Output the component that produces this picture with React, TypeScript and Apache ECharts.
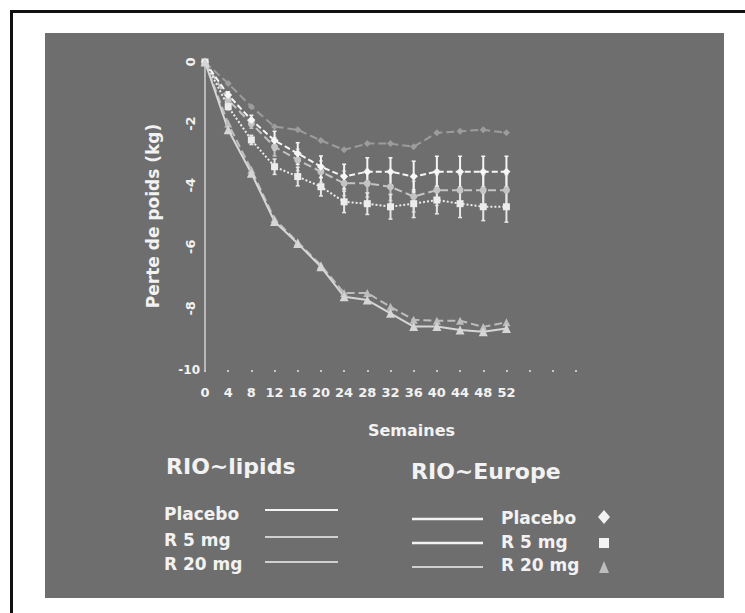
import React, { useEffect, useRef } from "react";
import * as echarts from "echarts";

const weeks = [0, 4, 8, 12, 16, 20, 24, 28, 32, 36, 40, 44, 48, 52];

const lipidsPlacebo = [0, -0.7, -1.45, -2.1, -2.2, -2.55, -2.85, -2.65, -2.65, -2.75, -2.3, -2.25, -2.2, -2.3];
const europePlacebo = [0, -1.07, -1.88, -2.55, -2.97, -3.4, -3.72, -3.56, -3.56, -3.72, -3.56, -3.56, -3.56, -3.56];
const europeR5 = [0, -1.45, -2.53, -3.4, -3.72, -4.05, -4.54, -4.6, -4.7, -4.6, -4.48, -4.6, -4.7, -4.7];
const lipidsR5 = [0, -1.23, -2.0, -2.75, -3.18, -3.56, -3.94, -3.94, -4.05, -4.37, -4.16, -4.16, -4.16, -4.16];
const europeR20 = [0, -2.2, -3.61, -5.18, -5.89, -6.65, -7.62, -7.73, -8.16, -8.59, -8.59, -8.7, -8.76, -8.65];
const lipidsR20 = [0, -2.0, -3.5, -5.1, -5.85, -6.6, -7.5, -7.5, -7.95, -8.37, -8.4, -8.4, -8.6, -8.45];

const errEuropePlacebo = [0, 0.1, 0.15, 0.3, 0.35, 0.35, 0.4, 0.45, 0.45, 0.5, 0.5, 0.5, 0.5, 0.5];
const errEuropeR5 = [0, 0.1, 0.15, 0.25, 0.3, 0.3, 0.35, 0.35, 0.4, 0.45, 0.45, 0.45, 0.45, 0.5];
const errLipidsR5 = [0, 0.1, 0.15, 0.3, 0.35, 0.35, 0.4, 0.45, 0.45, 0.5, 0.5, 0.5, 0.5, 0.5];

const yTicks = [0, -2, -4, -6, -8, -10];

const legendLipids = ["Placebo", "R 5 mg", "R 20 mg"];
const legendEurope = ["Placebo", "R 5 mg", "R 20 mg"];

const FONT = "'DejaVu Sans', Verdana, sans-serif";
const WHITE = "#f2f2f2";

function pairs(vals: number[]) {
  return weeks.map((w, i) => [w, vals[i]]);
}

function errData(vals: number[], errs: number[]) {
  return weeks.map((w, i) => [w, vals[i] - errs[i], vals[i] + errs[i]]);
}

function errSeries(vals: number[], errs: number[], color: string) {
  return {
    type: "custom",
    data: errData(vals, errs),
    z: 3,
    renderItem: (params: any, api: any) => {
      const x = api.value(0);
      const lo = api.coord([x, api.value(1)]);
      const hi = api.coord([x, api.value(2)]);
      return {
        type: "group",
        children: [
          { type: "line", shape: { x1: lo[0], y1: lo[1], x2: hi[0], y2: hi[1] }, style: { stroke: color, lineWidth: 2 } },
          { type: "line", shape: { x1: lo[0] - 2, y1: lo[1], x2: lo[0] + 2, y2: lo[1] }, style: { stroke: color, lineWidth: 1.5 } },
          { type: "line", shape: { x1: hi[0] - 2, y1: hi[1], x2: hi[0] + 2, y2: hi[1] }, style: { stroke: color, lineWidth: 1.5 } },
        ],
      };
    },
  };
}

export default function App() {
  const ref = useRef<HTMLDivElement>(null);

  useEffect(() => {
    if (!ref.current) return;
    const chart = echarts.init(ref.current, undefined, { renderer: "svg" });

    const legendGraphics: any[] = [
      { type: "text", x: 166, y: 466, style: { text: "RIO~lipids", fill: WHITE, fontSize: 22, fontWeight: "bold", fontFamily: FONT, verticalAlign: "middle" } },
      { type: "text", x: 411, y: 471, style: { text: "RIO~Europe", fill: WHITE, fontSize: 22, fontWeight: "bold", fontFamily: FONT, verticalAlign: "middle" } },
    ];
    const lipY = [514, 540, 564];
    const lipLineY = [510, 537, 562];
    legendLipids.forEach((t, i) => {
      legendGraphics.push({ type: "text", x: 164, y: lipY[i], style: { text: t, fill: WHITE, fontSize: 17, fontWeight: "bold", fontFamily: FONT, verticalAlign: "middle" } });
      legendGraphics.push({ type: "line", shape: { x1: 265, y1: lipLineY[i], x2: 338, y2: lipLineY[i] }, style: { stroke: WHITE, lineWidth: i === 0 ? 2 : 1.5 } });
    });
    const euY = [518, 542, 565];
    const euLineY = [519, 543, 567];
    legendEurope.forEach((t, i) => {
      legendGraphics.push({ type: "text", x: 501, y: euY[i], style: { text: t, fill: WHITE, fontSize: 17, fontWeight: "bold", fontFamily: FONT, verticalAlign: "middle" } });
      legendGraphics.push({ type: "line", shape: { x1: 412, y1: euLineY[i], x2: 483, y2: euLineY[i] }, style: { stroke: WHITE, lineWidth: i === 2 ? 1.5 : 2.5 } });
    });
    legendGraphics.push({ type: "polygon", shape: { points: [[604, 510], [610, 517], [604, 524], [598, 517]] }, style: { fill: WHITE } });
    legendGraphics.push({ type: "rect", shape: { x: 599, y: 538, width: 10, height: 10 }, style: { fill: WHITE } });
    legendGraphics.push({ type: "polygon", shape: { points: [[604, 561], [609, 573], [599, 573]] }, style: { fill: "#bdbdbd" } });

    const option: any = {
      animation: false,
      backgroundColor: "transparent",
      grid: { left: 205, right: 169, top: 62, bottom: 243, containLabel: false },
      xAxis: {
        type: "value",
        min: 0,
        max: 64,
        interval: 4,
        name: "Semaines",
        nameLocation: "middle",
        nameGap: 52,
        nameTextStyle: { color: WHITE, fontSize: 16, fontWeight: "bold", fontFamily: FONT, padding: [0, 0, 0, 42] },
        axisLine: { show: false, onZero: false },
        axisTick: { show: true, length: 2, inside: false, lineStyle: { color: "#c8c8c8", width: 2 } },
        splitLine: { show: false },
        axisLabel: {
          color: WHITE,
          fontSize: 13,
          fontWeight: "bold",
          fontFamily: FONT,
          margin: 16,
          formatter: (v: number) => (v <= 52 ? String(v) : ""),
        },
      },
      yAxis: [
        {
          type: "value",
          min: -10,
          max: 0,
          interval: 2,
          name: "Perte de poids (kg)",
          nameLocation: "middle",
          nameGap: 44,
          nameTextStyle: { color: WHITE, fontSize: 17, fontWeight: "bold", fontFamily: FONT },
          axisLine: { show: true, onZero: false, lineStyle: { color: "#d0d0d0", width: 1.5 } },
          axisTick: { show: false },
          splitLine: { show: false },
          axisLabel: {
            color: WHITE,
            fontSize: 13,
            fontWeight: "bold",
            fontFamily: FONT,
            rotate: 90,
            margin: 8,
            formatter: (v: number) => (yTicks.includes(v) && v !== -10 ? String(v) : ""),
          },
        },
        {
          type: "value",
          min: -10,
          max: 0,
          interval: 2,
          position: "left",
          axisLine: { show: false, onZero: false },
          axisTick: { show: false },
          splitLine: { show: false },
          axisLabel: {
            color: WHITE,
            fontSize: 12,
            fontWeight: "bold",
            fontFamily: FONT,
            margin: 5,
            formatter: (v: number) => (v === -10 ? String(v) : ""),
          },
        },
      ],
      series: [
        {
          name: "RIO-Lipids Placebo",
          type: "line",
          data: pairs(lipidsPlacebo),
          symbol: "diamond",
          symbolSize: 7,
          itemStyle: { color: "#9c9c9c" },
          lineStyle: { color: "#9c9c9c", width: 2, type: "dashed" },
        },
        errSeries(lipidsR5, errLipidsR5, "#c4c4c4"),
        {
          name: "RIO-Lipids R 5 mg",
          type: "line",
          data: pairs(lipidsR5),
          symbol: "circle",
          symbolSize: 7,
          itemStyle: { color: "#c4c4c4" },
          lineStyle: { color: "#c4c4c4", width: 2, type: "dashed" },
        },
        errSeries(europeR5, errEuropeR5, "#e6e6e6"),
        {
          name: "RIO-Europe R 5 mg",
          type: "line",
          data: pairs(europeR5),
          symbol: "rect",
          symbolSize: 7,
          itemStyle: { color: "#ececec" },
          lineStyle: { color: "#ececec", width: 2, type: "dotted" },
        },
        errSeries(europePlacebo, errEuropePlacebo, "#f4f4f4"),
        {
          name: "RIO-Europe Placebo",
          type: "line",
          data: pairs(europePlacebo),
          symbol: "diamond",
          symbolSize: 8,
          itemStyle: { color: "#f6f6f6" },
          lineStyle: { color: "#f6f6f6", width: 2, type: [6, 3] },
        },
        {
          name: "RIO-Lipids R 20 mg",
          type: "line",
          data: pairs(lipidsR20),
          symbol: "triangle",
          symbolSize: 8,
          itemStyle: { color: "#bdbdbd" },
          lineStyle: { color: "#bdbdbd", width: 2, type: "dashed" },
        },
        {
          name: "RIO-Europe R 20 mg",
          type: "line",
          data: pairs(europeR20),
          symbol: "triangle",
          symbolSize: 9,
          itemStyle: { color: "#d6d6d6" },
          lineStyle: { color: "#d6d6d6", width: 2 },
        },
      ],
      graphic: legendGraphics,
    };

    chart.setOption(option);
    return () => chart.dispose();
  }, []);

  return (
    <div style={{ position: "fixed", left: 0, top: 0, width: 745, height: 613, background: "#ffffff", overflow: "hidden" }}>
      <div style={{ position: "absolute", left: 10, top: 10, width: 735, height: 3, background: "#111" }} />
      <div style={{ position: "absolute", left: 10, top: 10, width: 3, height: 603, background: "#111" }} />
      <div style={{ position: "absolute", left: 45, top: 33, width: 679, height: 565, background: "#6e6e6e" }} />
      <div ref={ref} style={{ position: "absolute", left: 0, top: 0, width: 745, height: 613 }} />
    </div>
  );
}
